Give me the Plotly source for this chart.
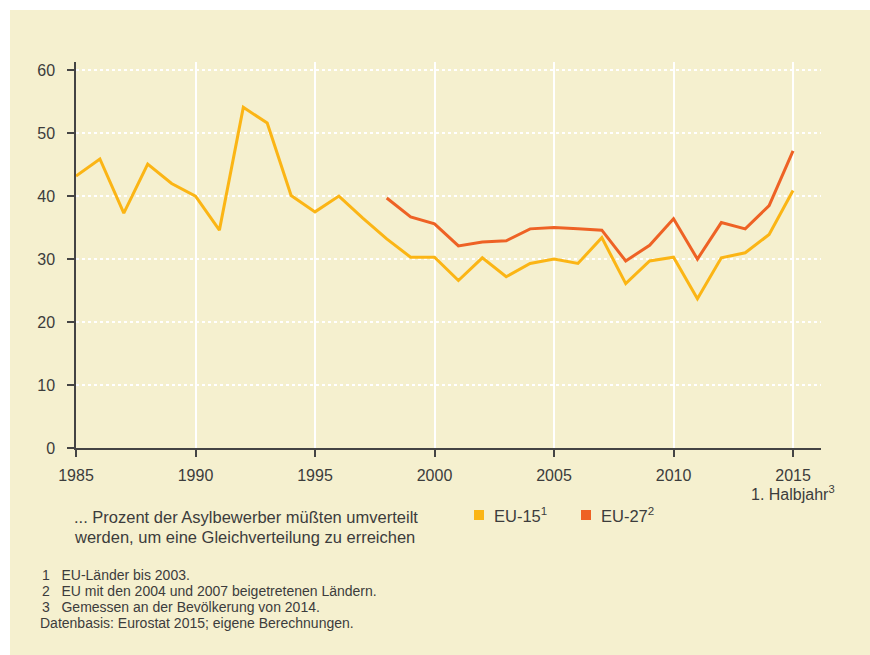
import plotly.graph_objects as go

years_eu15 = list(range(1985, 2016))
eu15 = [43.2, 45.9, 37.3, 45.1, 42.0, 40.0, 34.6, 54.1, 51.6, 40.1,
        37.5, 40.0, 36.5, 33.2, 30.3, 30.3, 26.6, 30.2, 27.2, 29.3,
        30.0, 29.3, 33.4, 26.1, 29.7, 30.3, 23.7, 30.2, 31.0, 33.9, 40.9]
years_eu27 = list(range(1998, 2016))
eu27 = [39.7, 36.7, 35.6, 32.1, 32.7, 32.9, 34.8, 35.0, 34.8, 34.6,
        29.7, 32.2, 36.4, 30.0, 35.8, 34.8, 38.5, 47.2]
x_ticks = [1985, 1990, 1995, 2000, 2005, 2010, 2015]
y_ticks = [0, 10, 20, 30, 40, 50, 60]

BG = "#F5F0CF"
YELLOW = "#FBB515"
ORANGE = "#EE6225"
TXT = "#3C3C3C"
FONT = "Liberation Sans, Arial, sans-serif"

W, H = 870, 655
L, R, T, B = 76, 49, 62, 207
PW, PH = W - L - R, H - T - B


def px(x):
    return (x - L) / PW


def py(y):
    return (H - B - y) / PH


fig = go.Figure()
fig.add_trace(go.Scatter(x=years_eu15, y=eu15, mode="lines",
                         line=dict(color=YELLOW, width=3), name="EU-15",
                         showlegend=False))
fig.add_trace(go.Scatter(x=years_eu27, y=eu27, mode="lines",
                         line=dict(color=ORANGE, width=3), name="EU-27",
                         showlegend=False))

shapes = [
    dict(type="rect", xref="paper", yref="paper", x0=px(0), x1=px(W),
         y0=py(10), y1=py(0), fillcolor="white", line=dict(width=0), layer="below"),
    dict(type="rect", xref="paper", yref="paper", x0=px(0), x1=px(10),
         y0=py(H), y1=py(0), fillcolor="white", line=dict(width=0), layer="below"),
    dict(type="rect", xref="paper", yref="paper", x0=px(474), x1=px(484),
         y0=py(520), y1=py(510), fillcolor=YELLOW, line=dict(width=0)),
    dict(type="rect", xref="paper", yref="paper", x0=px(581), x1=px(591),
         y0=py(520), y1=py(510), fillcolor=ORANGE, line=dict(width=0)),
]

ann = []


def txt(x, y, s, size=15, xanchor="left"):
    ann.append(dict(xref="paper", yref="paper", x=px(x), y=py(y), text=s,
                    showarrow=False, xanchor=xanchor, yanchor="middle",
                    font=dict(family=FONT, size=size, color=TXT)))


ann.append(dict(xref="x", yref="paper", x=2015, y=py(493), text="1. Halbjahr<sup>3</sup>",
                showarrow=False, xanchor="center", yanchor="middle",
                font=dict(family=FONT, size=16, color=TXT)))
txt(72, 517, "... Prozent der Asylbewerber müßten umverteilt", size=16.5)
txt(72, 537, "werden, um eine Gleichverteilung zu erreichen", size=16.5)
txt(492, 515, "EU-15<sup>1</sup>", size=16.5)
txt(599, 515, "EU-27<sup>2</sup>", size=16.5)
txt(40, 575, "1&nbsp;&nbsp;&nbsp;EU-Länder bis 2003.", size=14)
txt(40, 591, "2&nbsp;&nbsp;&nbsp;EU mit den 2004 und 2007 beigetretenen Ländern.", size=14)
txt(40, 607, "3&nbsp;&nbsp;&nbsp;Gemessen an der Bevölkerung von 2014.", size=14)
txt(38, 623, "Datenbasis: Eurostat 2015; eigene Berechnungen.", size=14)

fig.update_layout(
    width=W, height=H,
    margin=dict(l=L, r=R, t=T, b=B),
    paper_bgcolor=BG,
    plot_bgcolor="rgba(0,0,0,0)",
    shapes=shapes,
    annotations=ann,
    font=dict(family=FONT, color=TXT),
    xaxis=dict(range=[1985, 2016.17], tickvals=x_ticks, showgrid=True,
               gridcolor="white", gridwidth=1.5, showline=True, linecolor="#444444",
               linewidth=1.5, ticks="outside", ticklen=7, tickcolor="#444444",
               tickwidth=1.5, tickfont=dict(size=16, color=TXT), zeroline=False,
               ticklabelstandoff=5),
    yaxis=dict(range=[0, 61.3], tickvals=y_ticks, showgrid=True,
               gridcolor="white", gridwidth=1.5, griddash="dot", showline=True,
               linecolor="#444444", linewidth=1.5, ticks="outside", ticklen=7,
               tickcolor="#444444", tickwidth=1.5, tickfont=dict(size=16, color=TXT),
               zeroline=False, ticklabelstandoff=9),
)

fig.write_html("out.html", config={"displayModeBar": False},
               post_script="document.body.style.margin='0';"
                           "document.body.style.background='" + BG + "';")
